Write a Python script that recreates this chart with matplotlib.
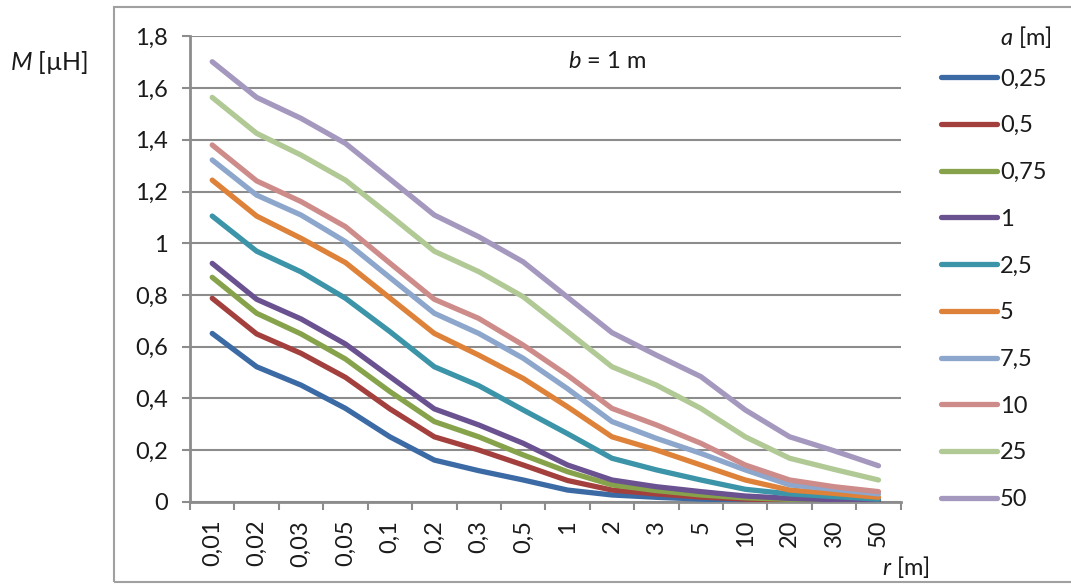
import matplotlib
matplotlib.use("Agg")
import matplotlib.pyplot as plt
from matplotlib.patches import Rectangle

plt.rcParams['font.family'] = ['Lato', 'DejaVu Sans']
plt.rcParams['mathtext.fontset'] = 'custom'
plt.rcParams['mathtext.it'] = 'Lato:italic'
plt.rcParams['mathtext.rm'] = 'Lato'

# distance r [m] (categories)
r_labels = ["0,01", "0,02", "0,03", "0,05", "0,1", "0,2", "0,3", "0,5",
            "1", "2", "3", "5", "10", "20", "30", "50"]

# side length a [m] of each series
a_labels = ["0,25", "0,5", "0,75", "1", "2,5", "5", "7,5", "10", "25", "50"]

# mutual inductance M [uH] per series
M_a025 = [0.651, 0.522, 0.451, 0.361, 0.251, 0.161, 0.120, 0.084,
          0.045, 0.026, 0.017, 0.010, 0.006, 0.004, 0.002, 0.001]
M_a05 = [0.787, 0.649, 0.574, 0.481, 0.359, 0.251, 0.200, 0.142,
         0.082, 0.045, 0.030, 0.018, 0.010, 0.006, 0.004, 0.002]
M_a075 = [0.868, 0.729, 0.649, 0.552, 0.426, 0.310, 0.251, 0.181,
          0.116, 0.065, 0.043, 0.026, 0.015, 0.009, 0.005, 0.003]
M_a1 = [0.922, 0.783, 0.707, 0.610, 0.484, 0.359, 0.297, 0.226,
        0.142, 0.084, 0.058, 0.039, 0.022, 0.013, 0.008, 0.005]
M_a25 = [1.105, 0.969, 0.889, 0.787, 0.658, 0.522, 0.449, 0.355,
         0.263, 0.168, 0.123, 0.084, 0.048, 0.030, 0.020, 0.010]
M_a5 = [1.244, 1.105, 1.019, 0.925, 0.788, 0.651, 0.567, 0.477,
        0.367, 0.251, 0.200, 0.142, 0.084, 0.045, 0.032, 0.017]
M_a75 = [1.322, 1.186, 1.109, 1.006, 0.867, 0.729, 0.651, 0.555,
         0.437, 0.310, 0.245, 0.187, 0.123, 0.065, 0.048, 0.030]
M_a10 = [1.380, 1.241, 1.161, 1.064, 0.923, 0.783, 0.709, 0.606,
         0.489, 0.361, 0.297, 0.226, 0.142, 0.084, 0.058, 0.039]
M_a25b = [1.564, 1.425, 1.341, 1.244, 1.108, 0.969, 0.890, 0.793,
          0.658, 0.522, 0.451, 0.361, 0.251, 0.168, 0.125, 0.084]
M_a50 = [1.702, 1.564, 1.483, 1.386, 1.248, 1.109, 1.025, 0.928,
         0.791, 0.654, 0.567, 0.484, 0.355, 0.251, 0.197, 0.139]

series = [M_a025, M_a05, M_a075, M_a1, M_a25, M_a5, M_a75, M_a10, M_a25b, M_a50]
colors = ["#3C6AA5", "#A3403D", "#86A34B", "#6A5190", "#3B94A8",
          "#DE8139", "#8DA6CC", "#CD8C8A", "#B0C995", "#A598BF"]

y_ticks = [0, 0.2, 0.4, 0.6, 0.8, 1.0, 1.2, 1.4, 1.6, 1.8]
y_ticklabels = ["0", "0,2", "0,4", "0,6", "0,8", "1", "1,2", "1,4", "1,6", "1,8"]

FS = 17
TXT = "#1A1A1A"
W, H = 1071, 586
fig = plt.figure(figsize=(W / 100, H / 100), dpi=100)

# outer chart border
fig.patches.append(Rectangle((114 / W, 1 - 582 / H), (W + 10 - 114) / W, (582 - 7) / H,
                             transform=fig.transFigure, fill=False,
                             edgecolor="#A0A0A0", linewidth=1.5, zorder=0))

ax = fig.add_axes([190 / W, 1 - 501.7 / H, (900.7 - 190) / W, (501.7 - 36.4) / H])

x = list(range(len(r_labels)))
handles = []
for vals, col, lab in zip(series, colors, a_labels):
    h, = ax.plot(x, vals, color=col, lw=3.8, solid_capstyle="round",
                 solid_joinstyle="round", label=lab, zorder=3)
    handles.append(h)

grid_col = "#8C8C8C"
ax.set_xlim(-0.5, len(r_labels) - 0.5)
ax.set_ylim(0, 1.8)
ax.set_yticks(y_ticks)
ax.set_yticklabels(y_ticklabels, fontsize=FS, color=TXT)
ax.set_xticks(x)
ax.set_xticklabels(r_labels, rotation=90, fontsize=FS, color=TXT)
ax.set_xticks([i - 0.5 for i in range(len(r_labels) + 1)], minor=True)
ax.tick_params(axis="x", which="major", length=0, pad=13)
ax.tick_params(axis="x", which="minor", length=6, width=1.5, color=grid_col, direction="out")
ax.tick_params(axis="y", length=6, width=1.5, color=grid_col, direction="out", pad=10)
ax.yaxis.grid(True, color=grid_col, lw=1.5, zorder=0)
ax.set_axisbelow(True)
for s in ["top", "right"]:
    ax.spines[s].set_visible(False)
for s in ["left", "bottom"]:
    ax.spines[s].set_color(grid_col)
    ax.spines[s].set_linewidth(2)

fig.text(10 / W, 1 - 63 / H, r"$M$ [µH]", fontsize=18, ha="left", va="center", color=TXT)
fig.text(607 / W, 1 - 61 / H, r"$b$ = 1 m", fontsize=FS, ha="center", va="center", color=TXT)
fig.text(930 / W, 1 - 567 / H, r"$r$ [m]", fontsize=FS, ha="right", va="center", color=TXT)
fig.text(1052 / W, 1 - 37 / H, r"$a$ [m]", fontsize=FS, ha="right", va="center", color=TXT)

fig.legend(handles=handles, loc="upper left", bbox_to_anchor=(941 / W, 1 - 68.5 / H),
           frameon=False, fontsize=FS, handlelength=2.37, handletextpad=0.12,
           labelspacing=1.09, borderaxespad=0, borderpad=0, labelcolor=TXT)

fig.savefig("out.png", dpi=100)
